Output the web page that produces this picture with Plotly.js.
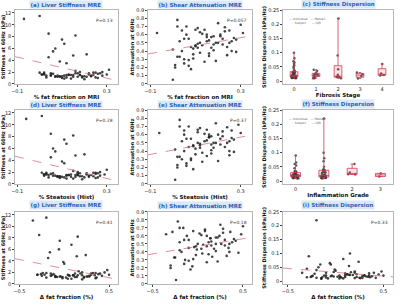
<!DOCTYPE html>
<html><head><meta charset="utf-8">
<script src="https://cdn.plot.ly/plotly-3.0.1.min.js"></script>
<style>body{margin:0;background:#fff}#c{width:400px;height:304px}</style>
</head><body><div id="c"></div>
<script>
// predictors (one per row)
const fatFractionMRI = [0.08,-0.07,0.12,0.02,0.15,0.05,0.18,0.22,0.1,0.03,0.07,0.0,0.2,0.25,0.01,0.06,0.09,0.11,0.13,0.16,0.19,0.23,0.27,0.3,0.04,0.08,0.12,0.17,0.21,0.24,0.02,0.05,0.1,0.15,0.18,0.04,0.26,0.28,0.07,0.11,0.13,0.16,0.22,0.09,0.0,0.06,0.14,0.19,0.31,0.24,
  0.03,0.09,0.14,0.18,0.21,0.26,0.01,0.05,0.12,0.16,0.2,0.23,0.07,0.1,0.15,0.28,0.02,0.11,0.17,0.25];
const steatosisHist  = [0.07,-0.06,0.13,0.03,0.14,0.06,0.17,0.21,0.11,0.02,0.08,0.01,0.19,0.24,0.02,0.05,0.1,0.12,0.12,0.15,0.2,0.22,0.26,0.29,0.05,0.09,0.11,0.18,0.2,0.25,0.03,0.04,0.09,0.16,0.17,0.05,0.25,0.27,0.06,0.12,0.14,0.15,0.21,0.1,0.01,0.07,0.13,0.18,0.3,0.23,
  0.04,0.08,0.15,0.17,0.22,0.25,0.02,0.06,0.11,0.17,0.19,0.24,0.08,0.09,0.16,0.27,0.03,0.12,0.16,0.26];
const deltaFat       = [-0.1,-0.35,0.05,-0.2,0.12,-0.15,0.2,0.3,-0.05,-0.25,-0.1,-0.2,0.25,0.35,-0.3,-0.12,-0.02,0.08,0.1,0.15,0.22,0.28,0.4,0.5,-0.18,-0.08,0.0,0.18,0.24,0.32,-0.22,-0.14,-0.04,0.14,0.2,-0.28,0.38,0.45,-0.06,0.06,0.04,0.16,0.3,-0.01,-0.24,-0.16,0.1,0.26,0.48,0.34,
  -0.2,-0.05,0.08,0.15,0.22,0.35,-0.3,-0.15,0.02,0.12,0.2,0.28,-0.1,-0.02,0.1,0.42,-0.26,0.04,0.14,0.36];
// responses
const stiffness   = [1.4,11.0,1.5,1.9,1.2,1.8,1.5,1.6,7.5,1.4,1.3,11.5,1.3,1.9,1.6,1.7,1.2,6.8,1.5,8.2,1.1,1.4,1.8,1.6,4.5,1.2,3.5,1.8,5.0,1.9,1.6,1.5,1.3,4.8,2.0,8.5,1.7,2.0,6.0,1.4,1.6,2.2,1.8,3.8,1.9,5.5,1.5,1.3,2.4,1.5,
  1.1,1.3,0.9,1.5,1.2,1.0,1.6,1.4,1.1,1.8,0.8,1.3,1.2,1.0,1.5,1.4,1.7,0.9,1.2,1.1];
const attenuation = [0.45,0.62,0.38,0.7,0.52,0.25,0.58,0.48,0.66,0.33,0.55,0.42,0.74,0.5,0.2,0.6,0.36,0.68,0.47,0.53,0.28,0.64,0.56,0.72,0.4,0.18,0.5,0.44,0.6,0.35,0.78,0.3,0.46,0.57,0.41,0.65,0.52,0.39,0.22,0.49,0.61,0.34,0.55,0.43,0.05,0.7,0.27,0.5,0.62,0.45,
  0.52,0.31,0.66,0.48,0.58,0.4,0.23,0.55,0.63,0.37,0.5,0.69,0.29,0.47,0.6,0.54,0.33,0.44,0.57,0.65];
const dispersion  = [0.02,0.03,0.015,0.04,0.025,0.01,0.035,0.02,0.06,0.018,0.03,0.22,0.012,0.028,0.045,0.02,0.033,0.08,0.015,0.1,0.025,0.012,0.03,0.02,0.05,0.01,0.038,0.022,0.07,0.017,0.027,0.014,0.02,0.055,0.03,0.09,0.018,0.024,0.065,0.013,0.02,0.032,0.021,0.042,0.019,0.06,0.028,0.011,0.035,0.016,
  0.012,0.018,0.01,0.022,0.015,0.02,0.014,0.009,0.016,0.025,0.011,0.019,0.013,0.017,0.021,0.012,0.015,0.01,0.023,0.014];
// histology grades
const fibrosisStage = [0,0,0,1,0,2,0,1,0,3,0,2,0,1,0,4,0,0,2,0,1,0,3,0,0,1,0,2,0,0,4,0,1,0,0,2,0,3,0,0,1,0,0,2,0,4,0,0,1,0,
  0,0,1,0,2,0,0,3,0,1,0,0,2,0,4,0,1,0,0,2];
const inflammGrade  = [0,1,0,1,0,1,0,1,0,1,0,1,0,1,0,1,0,1,0,1,0,1,2,0,1,0,1,0,1,0,3,0,1,0,1,0,1,2,0,1,0,1,0,1,0,2,0,1,0,3,
  0,1,0,1,0,1,1,0,1,0,1,0,0,1,0,1,0,1,2,0];
const fibrosisLabels = ['0','1','2','3','4'];
const inflammLabels = ['0','1','2','3'];
const titles = ['(a) Liver Stiffness MRE','(b) Shear Attenuation MRE','(c) Stiffness Dispersion',
                '(d) Liver Stiffness MRE','(e) Shear Attenuation MRE','(f) Stiffness Dispersion',
                '(g) Liver Stiffness MRE','(h) Shear Attenuation MRE','(i) Stiffness Dispersion'];
const pValues = ['P=0.13','P=0.057','', 'P=0.28','P=0.37','', 'P=0.41','P=0.18','P=0.33'];
const xTitles = ['% fat fraction on MRI','% Steatosis (Hist)','Δ fat fraction (%)'];
const yTitles = ['Stiffness at 60Hz (kPa)','Attenuation at 60Hz','Stiffness Dispersion (kPa/Hz)'];

const colDom = [[0.0375,0.295],[0.37,0.63],[0.7075,0.9825]];
const rowDom = [[0.724,0.967],[0.395,0.638],[0.066,0.303]];
const predictors = [fatFractionMRI, steatosisHist, deltaFat];
const responses = [stiffness, attenuation, dispersion];
const yRanges = [[0,12.5],[0,0.9],[-0.01,0.25]];
const yTicks = [[0,2,4,6,8,10,12],[0,0.1,0.2,0.3,0.4,0.5,0.6,0.7,0.8,0.9],[0,0.05,0.1,0.15,0.2,0.25]];
const xRangesRow = [[-0.11,0.35],[-0.11,0.35],[-0.55,0.6]];
const xTicksRow = [[-0.1,0.3],[-0.1,0.3],[-0.5,0.5]];

function fit(x,y){const n=x.length;let mx=0,my=0;for(let i=0;i<n;i++){mx+=x[i];my+=y[i];}mx/=n;my/=n;let sxy=0,sxx=0;for(let i=0;i<n;i++){sxy+=(x[i]-mx)*(y[i]-my);sxx+=(x[i]-mx)**2;}const b=sxy/sxx;return [b,my-b*mx];}

const data=[]; const layout={width:400,height:304,margin:{l:0,r:0,t:0,b:0},showlegend:false,
  paper_bgcolor:'#fff',plot_bgcolor:'#fff',boxmode:'overlay',font:{family:'DejaVu Sans, sans-serif',size:5,color:'#222'},annotations:[]};
const tickfont={size:5,color:'#222'};
const axTitleFont={size:5.5,color:'#111',weight:'bold'};
for(let r=0;r<3;r++){for(let c=0;c<3;c++){
  const k=r*3+c+1; const xa='x'+(k===1?'':k), ya='y'+(k===1?'':k);
  const xk='xaxis'+(k===1?'':k), yk='yaxis'+(k===1?'':k);
  const cat = (c===2 && r<2);
  layout[yk]={domain:rowDom[r],anchor:xa,range:yRanges[c],tickvals:yTicks[c],tickfont:tickfont,showgrid:false,zeroline:false,
    showline:true,mirror:true,linecolor:'#999',linewidth:0.7,ticks:'outside',ticklen:2,tickcolor:'#444',
    title:{text:yTitles[c],font:{size:5,color:'#111',weight:'bold'},standoff:1}};
  if(cat){
    const g = r===0?fibrosisStage:inflammGrade; const labs = r===0?fibrosisLabels:inflammLabels;
    layout[xk]={domain:colDom[c],anchor:ya,type:'category',categoryarray:labs,tickfont:tickfont,showgrid:false,
      showline:true,mirror:true,linecolor:'#999',linewidth:0.7,title:{text:r===0?'Fibrosis Stage':'Inflammation Grade',font:axTitleFont,standoff:2}};
    const gx=g.map(v=>String(v));
    data.push({type:'box',x:gx,y:dispersion,xaxis:xa,yaxis:ya,boxpoints:'all',jitter:0.6,pointpos:0,
      fillcolor:'rgba(0,0,0,0)',line:{color:'rgba(0,0,0,0)',width:0},marker:{color:'#333',size:2.5,opacity:0.8},width:0.5});
    data.push({type:'box',x:gx,y:dispersion,xaxis:xa,yaxis:ya,boxpoints:false,fillcolor:'rgba(220,60,80,0.15)',
      line:{color:'#d23c55',width:0.8},width:0.35,whiskerwidth:0.3});
    layout.annotations.push({xref:'paper',yref:'paper',x:colDom[c][0]+0.01,y:rowDom[r][1]-0.015,xanchor:'left',yanchor:'top',
      text:'— Individual   — Median<br>   ·  Subject      — IQR',showarrow:false,font:{size:3,color:'#666'},align:'left'});
  } else {
    const x=predictors[r], y=responses[c];
    layout[xk]={domain:colDom[c],anchor:ya,range:xRangesRow[r],tickvals:xTicksRow[r],tickfont:tickfont,showgrid:false,zeroline:false,
      showline:true,mirror:true,linecolor:'#999',linewidth:0.7,ticks:'outside',ticklen:2,tickcolor:'#444',
      title:{text:xTitles[r],font:axTitleFont,standoff:2}};
    data.push({type:'scatter',mode:'markers',x:x,y:y,xaxis:xa,yaxis:ya,marker:{color:'#222',size:2.6,opacity:0.85}});
    const [b,a]=fit(x,y);
    data.push({type:'scatter',mode:'lines',x:xRangesRow[r],y:xRangesRow[r].map(v=>a+b*v),xaxis:xa,yaxis:ya,
      line:{color:'#e07080',width:0.8,dash:'dash'}});
  }
  layout.annotations.push({xref:'paper',yref:'paper',x:(colDom[c][0]+colDom[c][1])/2,y:rowDom[r][1]+0.005,xanchor:'center',yanchor:'bottom',
    text:'<b>'+titles[k-1]+'</b>',showarrow:false,font:{size:5.5,color:'#2b5fb8'},bgcolor:'#dbe8f7',borderpad:0.5});
  if(pValues[k-1]) layout.annotations.push({xref:'paper',yref:'paper',x:colDom[c][1]-0.008,y:rowDom[r][1]-0.02,xanchor:'right',yanchor:'top',
    text:pValues[k-1],showarrow:false,font:{size:4.5,color:'#333'}});
}}
Plotly.newPlot('c',data,layout,{staticPlot:true});
</script></body></html>
